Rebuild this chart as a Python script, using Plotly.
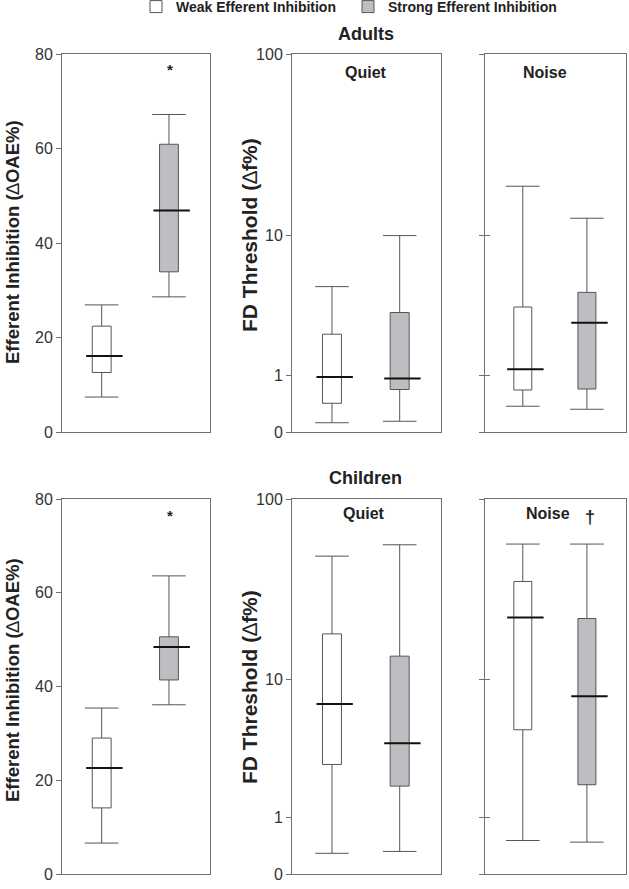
import numpy as np
import plotly.graph_objects as go

W, H = 629, 889

groups = ['Weak Efferent Inhibition', 'Strong Efferent Inhibition']
positions = [1, 2]

# five-number summaries: [weak, strong]
adult_oae = dict(lower=[7.4, 28.6], q1=[12.6, 33.9], med=[16.1, 46.9], q3=[22.4, 60.9], upper=[26.9, 67.2])
adult_quiet = dict(lower=[0.12, 0.14], q1=[0.42, 0.68], med=[0.96, 0.92], q3=[2.3, 3.3], upper=[4.9, 10.0])
adult_noise = dict(lower=[0.37, 0.32], q1=[0.67, 0.69], med=[1.15, 2.8], q3=[3.6, 4.5], upper=[19.1, 12.6])
child_oae = dict(lower=[6.6, 36.1], q1=[14.1, 41.4], med=[22.6, 48.4], q3=[29.0, 50.6], upper=[35.4, 63.6])
child_quiet = dict(lower=[0.29, 0.32], q1=[2.85, 1.95], med=[7.1, 4.0], q3=[18.2, 13.6], upper=[49.0, 56.5])
child_noise = dict(lower=[0.51, 0.48], q1=[4.9, 2.0], med=[22.5, 7.9], q3=[35.6, 22.2], upper=[57.0, 57.0])

oae_ticks = [0, 20, 40, 60, 80]
fd_ticks = [0, 1, 10, 100]

fill_colors = ['white', '#bdbec2']
edge = '#555555'
frame = '#707070'
FONT = 'Liberation Sans'


def fd(v):
    # the threshold axis is log10(x + 1), so 0 sits at the bottom
    return np.log10(np.asarray(v, dtype=float) + 1)


panels = [
    # data, is_fd, x-pixels, y-pixels
    (adult_oae, False, (62, 210), (54, 432)),
    (adult_quiet, True, (292, 441), (54, 432)),
    (adult_noise, True, (485, 626), (54, 432)),
    (child_oae, False, (62, 210), (499, 874)),
    (child_quiet, True, (292, 441), (499, 874)),
    (child_noise, True, (485, 626), (499, 874)),
]

fig = go.Figure()

for i, (d, is_fd, (x0, x1), (y0, y1)) in enumerate(panels):
    n = i + 1
    xa, ya = f'x{n}', f'y{n}'
    tf = fd if is_fd else (lambda v: np.asarray(v, dtype=float))
    lo, q1, med, q3, up = (tf(d[k]) for k in ['lower', 'q1', 'med', 'q3', 'upper'])

    for g in range(2):
        fig.add_trace(go.Bar(
            x=[positions[g]], base=[q1[g]], y=[q3[g] - q1[g]], width=0.28,
            marker=dict(color=fill_colors[g], line=dict(color=edge, width=1)),
            name=groups[g], showlegend=(n == 1), legendrank=g,
            xaxis=xa, yaxis=ya, hoverinfo='skip'))
        # whiskers
        fig.add_trace(go.Scatter(
            x=[positions[g], positions[g], None, positions[g], positions[g]],
            y=[q3[g], up[g], None, q1[g], lo[g]],
            mode='lines', line=dict(color=edge, width=1),
            showlegend=False, xaxis=xa, yaxis=ya, hoverinfo='skip'))
        # caps
        fig.add_trace(go.Scatter(
            x=[positions[g], positions[g]], y=[up[g], lo[g]], mode='markers',
            marker=dict(symbol='line-ew', size=24, line=dict(color=edge, width=1)),
            showlegend=False, xaxis=xa, yaxis=ya, hoverinfo='skip'))
        # median
        fig.add_trace(go.Scatter(
            x=[positions[g] + 0.04], y=[med[g]], mode='markers',
            marker=dict(symbol='line-ew', size=26, line=dict(color='#111111', width=2)),
            showlegend=False, xaxis=xa, yaxis=ya, hoverinfo='skip'))

    xkey = 'xaxis' if n == 1 else f'xaxis{n}'
    ykey = 'yaxis' if n == 1 else f'yaxis{n}'
    fig.layout[xkey] = dict(
        domain=[x0 / W, x1 / W], anchor=ya, range=[0.41, 2.61],
        showline=True, mirror=True, linecolor=frame, linewidth=1,
        showticklabels=False, ticks='', showgrid=False, zeroline=False)
    if is_fd:
        yrange = [0, float(fd(100))]
        tickvals = list(fd(fd_ticks))
        ticktext = [str(t) for t in fd_ticks]
    else:
        yrange = [0, 80]
        tickvals = oae_ticks
        ticktext = [str(t) for t in oae_ticks]
    noise = n in (3, 6)
    fig.layout[ykey] = dict(
        domain=[1 - y1 / H, 1 - y0 / H], anchor=xa, range=yrange,
        tickvals=tickvals, ticktext=ticktext, showticklabels=not noise,
        ticks='outside', ticklen=5, tickcolor=frame, tickwidth=1,
        showline=True, mirror=True, linecolor=frame, linewidth=1,
        showgrid=False, zeroline=False,
        tickfont=dict(family=FONT, size=16, color='#333333'))

# noise panels: ticks cross the axis, so add inside ticks on an overlay
for n, ov in ((3, 7), (6, 8)):
    fig.add_trace(go.Scatter(x=[None], y=[None], xaxis=f'x{n}', yaxis=f'y{ov}',
                             showlegend=False, hoverinfo='skip'))
    fig.layout[f'yaxis{ov}'] = dict(
        overlaying=f'y{n}', anchor=f'x{n}', side='left',
        range=[0, float(fd(100))], tickvals=list(fd(fd_ticks)),
        showticklabels=False, ticks='inside', ticklen=5, tickcolor=frame,
        showline=False, showgrid=False, zeroline=False)

delta = '<span style="font-weight:normal">∆</span>'
notes = [
    ('Adults', 366, 34, 18, 0),
    ('Children', 365, 478, 18, 0),
    ('Quiet', 366, 72, 16, 0),
    ('Noise', 545, 72, 16, 0),
    ('Quiet', 364, 513, 16, 0),
    ('Noise', 548, 513, 16, 0),
    ('†', 590, 517, 18, 0),
    ('*', 170, 69, 15, 0),
    ('*', 170, 515, 15, 0),
    (f'Efferent Inhibition ({delta}OAE%)', 12, 242, 18.5, -90),
    (f'Efferent Inhibition ({delta}OAE%)', 12, 680, 18.5, -90),
    (f'FD Threshold ({delta}f%)', 249, 235, 21, -90),
    (f'FD Threshold ({delta}f%)', 249, 687, 21, -90),
]
for text, x, y, size, ang in notes:
    fig.add_annotation(
        text=text, x=x / W, y=1 - y / H, xref='paper', yref='paper',
        showarrow=False, textangle=ang, xanchor='center', yanchor='middle',
        font=dict(family=FONT, size=size, color='#222222', weight='bold'))

fig.update_layout(
    width=W, height=H, margin=dict(l=0, r=0, t=0, b=0, autoexpand=False),
    paper_bgcolor='white', plot_bgcolor='white',
    barmode='overlay',
    legend=dict(orientation='h', x=136 / W, y=1 + 9 / H, xanchor='left', yanchor='top',
                font=dict(family=FONT, size=14, color='#222222', weight='bold'),
                itemwidth=30, entrywidth=167, entrywidthmode='pixels',
                bgcolor='rgba(0,0,0,0)'),
)

# the page body has a default 8px margin; drop it so the figure fills the window
fig.write_html("out.html", config={'displayModeBar': False},
               post_script="document.body.style.margin='0px';")
